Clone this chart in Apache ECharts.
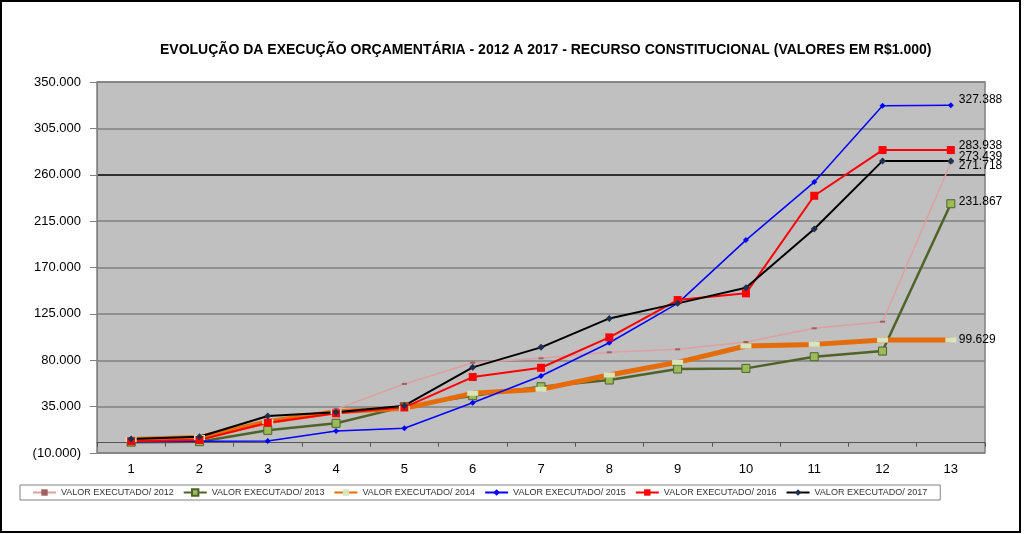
<!DOCTYPE html>
<html>
<head>
<meta charset="utf-8">
<script src="https://cdn.jsdelivr.net/npm/echarts@6/dist/echarts.min.js"></script>
<style>
html,body{margin:0;padding:0;background:#fff;}
#chart{width:1024px;height:534px;}
</style>
</head>
<body>
<div id="chart"></div>
<script>
const categories = ['1','2','3','4','5','6','7','8','9','10','11','12','13'];
const yTicks = [-10000, 35000, 80000, 125000, 170000, 215000, 260000, 305000, 350000];
const seriesNames = ['VALOR EXECUTADO/ 2012','VALOR EXECUTADO/ 2013','VALOR EXECUTADO/ 2014','VALOR EXECUTADO/ 2015','VALOR EXECUTADO/ 2016','VALOR EXECUTADO/ 2017'];
const v2012 = [2000, 3000, 18000, 32600, 57000, 77600, 81900, 87700, 90600, 97700, 111000, 117400, 271718];
const v2013 = [500, 1000, 12000, 18800, 35000, 45600, 54300, 60800, 71500, 72100, 83400, 88900, 231867];
const v2014 = [3000, 5000, 20400, 30000, 33300, 47900, 51800, 65700, 78000, 93800, 95400, 99600, 99629];
const v2015 = [1000, 1500, 1600, 11300, 14000, 38800, 64700, 97000, 135200, 196600, 252900, 327000, 327388];
const v2016 = [1500, 2600, 19400, 28500, 34300, 63700, 72700, 102200, 138400, 144900, 239600, 283938, 283938];
const v2017 = [3600, 5800, 25900, 29500, 35900, 73100, 92500, 120600, 135200, 150400, 207300, 273439, 273439];

function fmt(v){
  const neg = v < 0;
  const s = Math.abs(Math.round(v)).toString().replace(/\B(?=(\d{3})+(?!\d))/g, '.');
  return neg ? '(' + s + ')' : s;
}

const chart = echarts.init(document.getElementById('chart'), null, {renderer:'canvas'});
const FONT = 'Liberation Sans, Arial, sans-serif';

function mk(name, data, color, width, symbol, symbolSize, markerColor, markerBorder, offset){
  return {
    name: name, type: 'line', data: data,
    lineStyle: {color: color, width: width},
    itemStyle: {color: markerColor, borderColor: markerBorder, borderWidth: markerBorder ? 1 : 0},
    symbol: symbol, symbolSize: symbolSize, showAllSymbol: true,
    color: color,
    animation: false,
    endLabel: {
      show: true, distance: 8, offset: offset,
      fontFamily: FONT, fontSize: 12, color: '#000',
      formatter: p => fmt(p.value)
    }
  };
}

const gridColors = ['#808080','#808080','#808080','#808080','#808080','#808080','#000000','#808080','#808080'];

chart.setOption({
  backgroundColor: '#ffffff',
  animation: false,
  title: {
    text: 'EVOLUÇÃO DA EXECUÇÃO ORÇAMENTÁRIA - 2012 A 2017 - RECURSO CONSTITUCIONAL (VALORES EM R$1.000)',
    left: 155, top: 38,
    textStyle: {fontFamily: FONT, fontSize: 14, fontWeight: 'bold', color: '#000'}
  },
  graphic: [{
    type: 'rect', shape: {x: 1, y: 1, width: 1019, height: 531},
    style: {fill: null, stroke: '#000', lineWidth: 2}, silent: true, z: 100
  }],
  grid: {
    left: 97, right: 39, top: 82, bottom: 81,
    show: true, backgroundColor: '#C0C0C0', borderColor: '#808080', borderWidth: 1.5
  },
  legend: {
    data: seriesNames,
    left: 20, top: 485,
    padding: [3, 13, 3, 12],
    itemWidth: 23, itemHeight: 8, itemGap: 9,
    borderColor: '#808080', borderWidth: 1,
    textStyle: {fontFamily: FONT, fontSize: 9, color: '#333', padding: [0,0,0,0]}
  },
  xAxis: {
    type: 'category', data: categories, boundaryGap: true,
    axisLine: {show: true, onZero: true, lineStyle: {color: '#555', width: 1}},
    axisTick: {show: true, inside: false, length: 4, lineStyle: {color: '#555'}},
    axisLabel: {margin: 10, fontFamily: FONT, fontSize: 13, color: '#000'},
    splitLine: {show: false}
  },
  yAxis: {
    type: 'value', min: -10000, max: 350000,
    axisLine: {show: true, lineStyle: {color: '#808080', width: 1}},
    axisTick: {show: true, length: 7, customValues: yTicks, lineStyle: {color: '#808080'}},
    axisLabel: {customValues: yTicks, margin: 16, fontFamily: FONT, fontSize: 13, color: '#000', formatter: v => fmt(v)},
    splitLine: {show: true, lineStyle: {color: gridColors, width: 1.5}}
  },
  series: [
    mk(seriesNames[0], v2012, '#DDA0A0', 1.5, 'rect', [5,2], '#A06060', null, [0, 3]),
    mk(seriesNames[1], v2013, '#4F6228', 2.5, 'rect', 8, '#9BBB59', '#4F6228', [0, -2]),
    mk(seriesNames[2], v2014, '#E46C0A', 5, 'rect', [11,5], '#D8E4BC', null, [0, 0]),
    mk(seriesNames[3], v2015, '#0000FF', 1.5, 'diamond', 6, '#0000FF', null, [0, -6]),
    mk(seriesNames[4], v2016, '#FF0000', 2, 'rect', 8, '#FF0000', null, [0, -4]),
    mk(seriesNames[5], v2017, '#000000', 2, 'diamond', 7, '#1F2F4F', null, [0, -4])
  ]
});
</script>
</body>
</html>
